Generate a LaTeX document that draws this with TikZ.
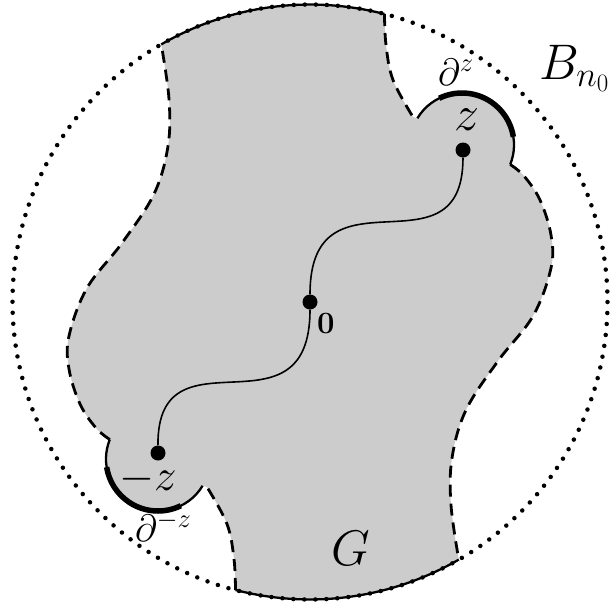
\documentclass[tikz,border=0pt]{standalone}
\usepackage{fix-cm}
\usetikzlibrary{calc}
\begin{document}
\begin{tikzpicture}[x=1pt,y=-1pt,
  lab/.style={font=\fontsize{50}{55}\selectfont, inner sep=0pt},
  midlab/.style={font=\fontsize{45}{50}\selectfont, inner sep=0pt},
  dlab/.style={font=\fontsize{38}{42}\selectfont, inner sep=0pt},
  smalllab/.style={font=\fontsize{31}{34}\selectfont, inner sep=0pt},
  dotn/.style={circle, fill=black, minimum size=15pt, inner sep=0pt},
  dashb/.style={line width=2.8pt, dash pattern=on 12pt off 7pt},
  solidb/.style={line width=2.3pt},
  thickb/.style={line width=5.5pt},
  ballline/.style={line width=4.5pt, dash pattern=on 0pt off 11pt, line cap=round}]
\useasboundingbox (0,0) rectangle (616,603);
\coordinate (C) at (310,302);
\coordinate (Z) at (462,145);
\coordinate (NZ) at (158,459);
% region
\fill[gray!40] (161.25,44.4) arc[start angle=-120, end angle=-75.5, radius=297.5]
  -- plot[smooth, tension=0.6] coordinates {(384.5,14) (386,45) (393,80) (413,117)}
  -- ($(Z)+(-149:52)$) arc[start angle=-149, end angle=22, radius=52]
  -- plot[smooth, tension=0.6] coordinates {(510.2,164.5) (524,176) (540,200) (551,235) (551,268) (533,316) (498,361) (466,410) (452,458) (451,505) (458.75,559.6)}
  arc[start angle=60, end angle=104.5, radius=297.5]
  -- plot[smooth, tension=0.6] coordinates {(235.5,590) (234,559) (227,524) (207,487)}
  -- ($(NZ)+(31:52)$) arc[start angle=31, end angle=202, radius=52]
  -- plot[smooth, tension=0.6] coordinates {(109.8,439.5) (96,428) (80,404) (69,369) (69,336) (87,288) (122,243) (154,194) (168,146) (169,99) (161.25,44.4)}
  -- cycle;
% ball
\draw[ballline] (C) circle[radius=297.5];
% solid arcs on the ball
\draw[solidb] (161.25,44.4) arc[start angle=-120, end angle=-75.5, radius=297.5];
\draw[solidb] (458.75,559.6) arc[start angle=60, end angle=104.5, radius=297.5];
% dashed boundary
\draw[dashb] plot[smooth, tension=0.6] coordinates {(384.5,14) (386,45) (393,80) (413,117)};
\draw[dashb] plot[smooth, tension=0.6] coordinates {(510.2,164.5) (524,176) (540,200) (551,235) (551,268) (533,316) (498,361) (466,410) (452,458) (451,505) (458.75,559.6)};
\draw[dashb] plot[smooth, tension=0.6] coordinates {(235.5,590) (234,559) (227,524) (207,487)};
\draw[dashb] plot[smooth, tension=0.6] coordinates {(109.8,439.5) (96,428) (80,404) (69,369) (69,336) (87,288) (122,243) (154,194) (168,146) (169,99) (161.25,44.4)};
% bumps
\draw[solidb] ($(Z)+(-149:52)$) arc[start angle=-149, end angle=22, radius=52];
\draw[thickb] ($(Z)+(-116:52)$) arc[start angle=-116, end angle=-9, radius=52];
\draw[solidb] ($(NZ)+(31:52)$) arc[start angle=31, end angle=202, radius=52];
\draw[thickb] ($(NZ)+(64:52)$) arc[start angle=64, end angle=171, radius=52];
% points and path
\node[dotn] (z) at (463,150) {};
\node[dotn] (o) at (310,302) {};
\node[dotn] (mz) at (158,453) {};
\draw[line width=1.6pt] (z) .. controls (463,281) and (310,160) .. (o);
\draw[line width=1.6pt] (o) .. controls (310,444) and (157,323) .. (mz);
% labels
\node[lab, anchor=base west] (Bl) at (539,79) {$B_{n_0}$};
\node[dlab, anchor=base west] (dz) at (438,85) {$\partial^z$};
\node[lab, anchor=base west] (zl) at (454,130) {$z$};
\node[smalllab, anchor=base west] (ol) at (317,333) {$\mathbf{0}$};
\node[midlab, anchor=base west] (mzl) at (119,490) {$-z$};
\node[dlab, anchor=base west] (dmz) at (135,541) {$\partial^{-z}$};
\node[lab, anchor=base west] (Gl) at (331,565) {$G$};
\end{tikzpicture}
\end{document}
